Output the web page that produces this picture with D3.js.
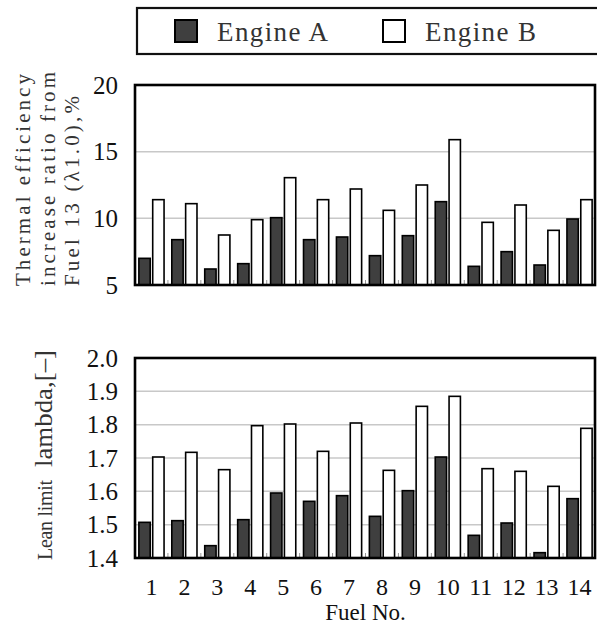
<!DOCTYPE html>
<html>
<head>
<meta charset="utf-8">
<script src="https://cdn.jsdelivr.net/npm/d3@7"></script>
<style>
  html, body { margin: 0; padding: 0; background: #fff; }
  svg { display: block; }
</style>
</head>
<body>
<div id="chart"></div>
<script>
// fuel numbers on the x axis
var fuels = ["1", "2", "3", "4", "5", "6", "7", "8", "9", "10", "11", "12", "13", "14"];
var engines = ["Engine A", "Engine B"];

// thermal efficiency increase ratio from fuel 13 (lambda 1.0), %
var effA = [7.0, 8.4, 6.2, 6.6, 10.05, 8.4, 8.6, 7.2, 8.7, 11.25, 6.4, 7.5, 6.5, 9.95];
var effB = [11.4, 11.1, 8.75, 9.9, 13.05, 11.4, 12.2, 10.6, 12.5, 15.9, 9.7, 11.0, 9.1, 11.4];
var effTicks = [5, 10, 15, 20];

// lean limit lambda [-]
var lamA = [1.507, 1.512, 1.437, 1.515, 1.595, 1.57, 1.587, 1.525, 1.602, 1.703, 1.468, 1.505, 1.416, 1.578];
var lamB = [1.703, 1.717, 1.665, 1.797, 1.802, 1.72, 1.805, 1.663, 1.855, 1.885, 1.668, 1.66, 1.615, 1.789];
var lamTicks = [1.4, 1.5, 1.6, 1.7, 1.8, 1.9, 2.0];

var config = {
    colors: { a: '#3f3f3f', b: '#ffffff', grid: '#c8c8c8', minor: '#999', text: '#111', label: '#333' },
    serif: '"Liberation Serif", "Times New Roman", serif',
    plot: { left: 135, right: 596 }
};

var svg = d3.select('#chart').append('svg')
    .attr('width', 597)
    .attr('height', 625);

var x0 = d3.scaleBand().domain(fuels).range([config.plot.left, config.plot.right]).padding(0);
var x1 = d3.scaleBand().domain(engines).range([0, x0.bandwidth()]).paddingInner(0.18).paddingOuter(0.28);

function drawPanel(y, ticks, fmt, seriesA, seriesB) {
    var g = svg.append('g');
    var bottom = y.range()[0], top = y.range()[1];

    // grid lines
    g.selectAll('.grid')
        .data(ticks.slice(1, -1))
        .enter().append('line')
        .attr('x1', config.plot.left)
        .attr('x2', config.plot.right)
        .attr('y1', function (d) { return y(d); })
        .attr('y2', function (d) { return y(d); })
        .attr('stroke', config.colors.grid)
        .attr('stroke-width', 1.5);

    var rows = fuels.map(function (f, i) {
        return { fuel: f, vals: [{ k: engines[0], v: seriesA[i] }, { k: engines[1], v: seriesB[i] }] };
    });

    var groups = g.selectAll('.group')
        .data(rows)
        .enter().append('g')
        .attr('transform', function (d) { return 'translate(' + x0(d.fuel) + ',0)'; });

    groups.selectAll('rect')
        .data(function (d) { return d.vals; })
        .enter().append('rect')
        .attr('x', function (d) { return x1(d.k); })
        .attr('width', x1.bandwidth())
        .attr('y', function (d) { return y(d.v); })
        .attr('height', function (d) { return bottom - y(d.v); })
        .attr('fill', function (d) { return d.k == engines[0] ? config.colors.a : config.colors.b; })
        .attr('stroke', '#000')
        .attr('stroke-width', 1.6);

    // little ticks between the fuel groups
    g.selectAll('.minor')
        .data(fuels.slice(1))
        .enter().append('line')
        .attr('x1', function (d) { return x0(d); })
        .attr('x2', function (d) { return x0(d); })
        .attr('y1', bottom)
        .attr('y2', bottom - 5)
        .attr('stroke', config.colors.minor)
        .attr('stroke-width', 1);

    // frame
    g.append('rect')
        .attr('x', config.plot.left)
        .attr('y', top)
        .attr('width', config.plot.right - config.plot.left - 1)
        .attr('height', bottom - top)
        .attr('fill', 'none')
        .attr('stroke', '#000')
        .attr('stroke-width', 2.6);

    var axis = g.append('g')
        .attr('transform', 'translate(' + config.plot.left + ',0)')
        .call(d3.axisLeft(y).tickValues(ticks).tickFormat(fmt).tickSize(0).tickPadding(17));
    axis.select('.domain').remove();
    axis.selectAll('text')
        .attr('font-family', config.serif)
        .attr('font-size', 25)
        .attr('fill', config.colors.text);
    return g;
}

var yTop = d3.scaleLinear().domain([5, 20]).range([285, 85]);
var yBot = d3.scaleLinear().domain([1.4, 2.0]).range([558, 358]);

drawPanel(yTop, effTicks, d3.format('d'), effA, effB);
drawPanel(yBot, lamTicks, d3.format('.1f'), lamA, lamB);

// x axis labels under the lower panel
var xAxis = svg.append('g')
    .attr('transform', 'translate(0,' + 575.5 + ')')
    .call(d3.axisBottom(x0).tickSize(0).tickPadding(2));
xAxis.select('.domain').remove();
xAxis.selectAll('text')
    .attr('font-family', config.serif)
    .attr('font-size', 24)
    .attr('fill', config.colors.text);

svg.append('text')
    .attr('x', (config.plot.left + config.plot.right) / 2)
    .attr('y', 619.5)
    .attr('text-anchor', 'middle')
    .attr('font-family', config.serif)
    .attr('font-size', 23)
    .attr('fill', config.colors.text)
    .text('Fuel No.');

// y titles (spaced out like the typewriter face of the original)
var topTitle = [
    { text: 'Thermal efficiency', x: 30, len: 212 },
    { text: 'increase ratio from', x: 54.5, len: 214 },
    { text: 'Fuel 13 (\u03bb1.0),%', x: 79, len: 190 }
];
svg.selectAll('.ttl')
    .data(topTitle)
    .enter().append('text')
    .attr('transform', function (d) { return 'translate(' + d.x + ',286) rotate(-90)'; })
    .attr('font-family', config.serif)
    .attr('font-size', 21)
    .attr('fill', config.colors.label)
    .attr('textLength', function (d) { return d.len; })
    .attr('lengthAdjust', 'spacing')
    .text(function (d) { return d.text; });

svg.append('text')
    .attr('transform', 'translate(52,560) rotate(-90)')
    .attr('font-family', config.serif)
    .attr('font-size', 20)
    .attr('fill', config.colors.label)
    .attr('textLength', 80)
    .attr('lengthAdjust', 'spacing')
    .text('Lean limit');
svg.append('text')
    .attr('transform', 'translate(52,467) rotate(-90)')
    .attr('font-family', config.serif)
    .attr('font-size', 26)
    .attr('fill', config.colors.label)
    .attr('textLength', 117)
    .attr('lengthAdjust', 'spacingAndGlyphs')
    .text('lambda,[\u2013]');

// legend
var legend = svg.append('g');
legend.append('rect')
    .attr('x', 137).attr('y', 8)
    .attr('width', 470).attr('height', 46)
    .attr('fill', '#fff')
    .attr('stroke', '#111')
    .attr('stroke-width', 2.2);

var legItems = legend.selectAll('.item')
    .data(engines)
    .enter().append('g')
    .attr('transform', function (d, i) { return 'translate(' + (175 + i * 208) + ',20)'; });
legItems.append('rect')
    .attr('width', 22).attr('height', 22)
    .attr('fill', function (d, i) { return i == 0 ? config.colors.a : config.colors.b; })
    .attr('stroke', '#000')
    .attr('stroke-width', 2);
legItems.append('text')
    .attr('x', 42)
    .attr('y', 21)
    .attr('font-family', config.serif)
    .attr('font-size', 27)
    .attr('fill', config.colors.label)
    .attr('textLength', 111)
    .attr('lengthAdjust', 'spacing')
    .text(function (d) { return d; });
</script>
</body>
</html>
